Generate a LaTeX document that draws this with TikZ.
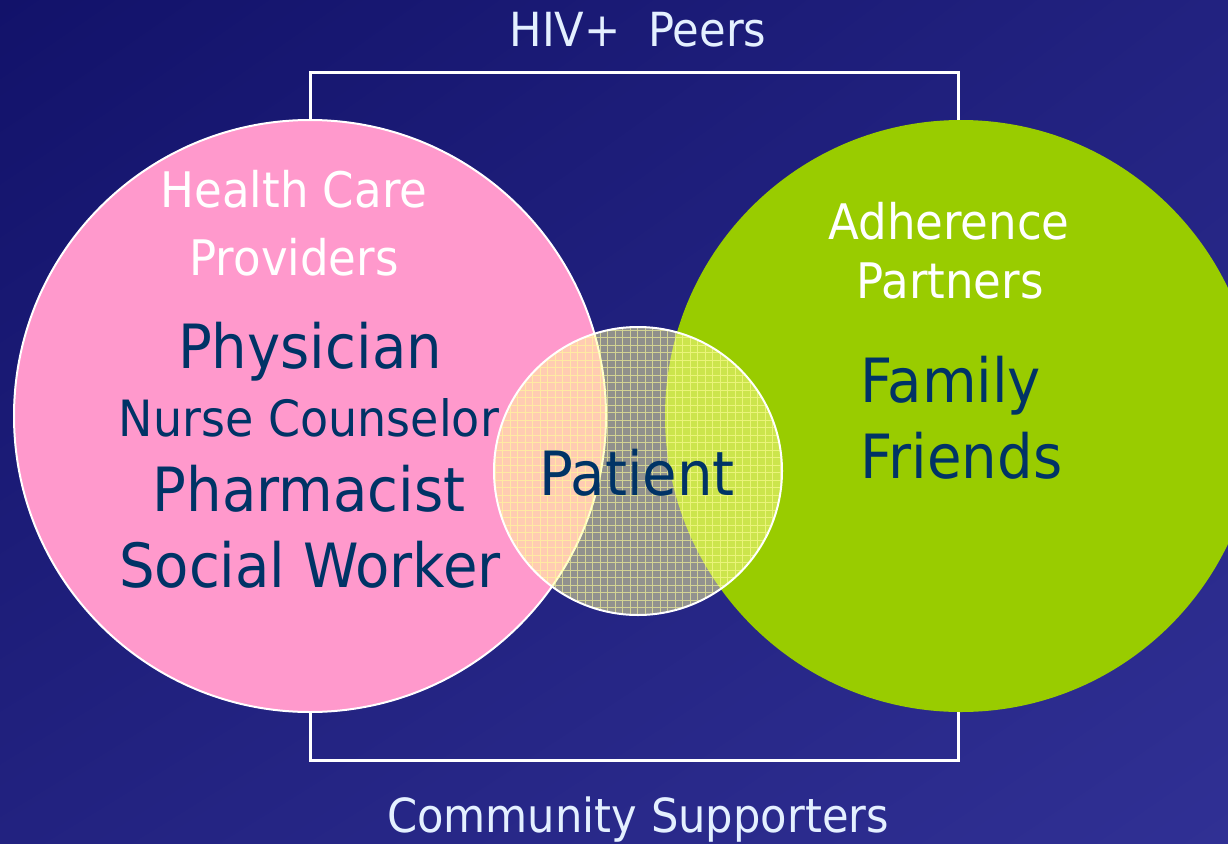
\documentclass[tikz,border=0pt]{standalone}
\usepackage{fontspec}
\setmainfont[FakeStretch=0.92]{DejaVu Sans}
\usetikzlibrary{shadings}

\definecolor{bgdark}{RGB}{18,18,106}
\definecolor{bgmid}{RGB}{34,34,128}
\definecolor{bglight}{RGB}{48,48,148}
\definecolor{carepink}{HTML}{FF99CC}
\definecolor{partnergreen}{HTML}{99CC00}
\definecolor{membertext}{HTML}{003366}
\definecolor{peertext}{HTML}{E4F0FF}
\definecolor{meshyellow}{HTML}{FFFF99}

\def\ringradius{296pt}
\def\patientradius{144pt}

\tikzset{
  group/.style  = {circle, inner sep=0pt, minimum size=2*\ringradius},
  heading/.style = {anchor=base, text=white, font=\fontsize{49}{54}\selectfont},
  outside/.style = {heading, text=peertext, font=\fontsize{47}{52}\selectfont},
  member/.style = {anchor=base, text=membertext, font=\fontsize{61}{66}\selectfont},
}

\begin{document}
\begin{tikzpicture}[x=1pt, y=-1pt]
  \useasboundingbox (0,0) rectangle (1228,843);
  % slide background
  \shade[upper left=bgdark, upper right=bgmid, lower left=bgmid, lower right=bglight]
    (0,0) rectangle (1228,843);

  % outer frame for the wider circle of support
  \draw[white, line width=3pt] (310,72) rectangle (958,760);

  % the two big groups
  \node[group, fill=carepink, draw=white, line width=2pt] (care) at (310,416) {};
  \node[group, fill=partnergreen] (partners) at (961,416) {};

  % patient in the middle, see-through mesh
  \coordinate (patient) at (638,471);
  \begin{scope}
    \clip (patient) circle[radius=\patientradius];
    \fill[meshyellow, opacity=0.5] (490,320) rectangle (790,620);
    \draw[meshyellow, opacity=0.6, line width=0.7pt, step=7.5pt] (490,320) grid (790,620);
  \end{scope}
  \draw[white, line width=2pt] (patient) circle[radius=\patientradius];

  % labels
  \node[outside] (peers) at (638,47) {HIV+\ \ Peers};
  \node[heading] (caretitle) at (294,207) {Health Care};
  \node[heading] (caretitle2) at (294,275) {Providers};
  \node[member] (physician) at (310,368) {Physician};
  \node[member, font=\fontsize{50}{54}\selectfont] (nurse) at (309,436) {Nurse Counselor};
  \node[member] (pharmacist) at (309,511) {Pharmacist};
  \node[member] (social) at (310,587) {Social Worker};
  \node[member] (patientname) at (637,495) {Patient};
  \node[heading] (partnertitle) at (949,239) {Adherence};
  \node[heading] (partnertitle2) at (950,298) {Partners};
  \node[member, anchor=base west] (family) at (857,402) {Family};
  \node[member, anchor=base west] (friends) at (857,478) {Friends};
  \node[outside] (community) at (638,832) {Community Supporters};
\end{tikzpicture}
\end{document}
